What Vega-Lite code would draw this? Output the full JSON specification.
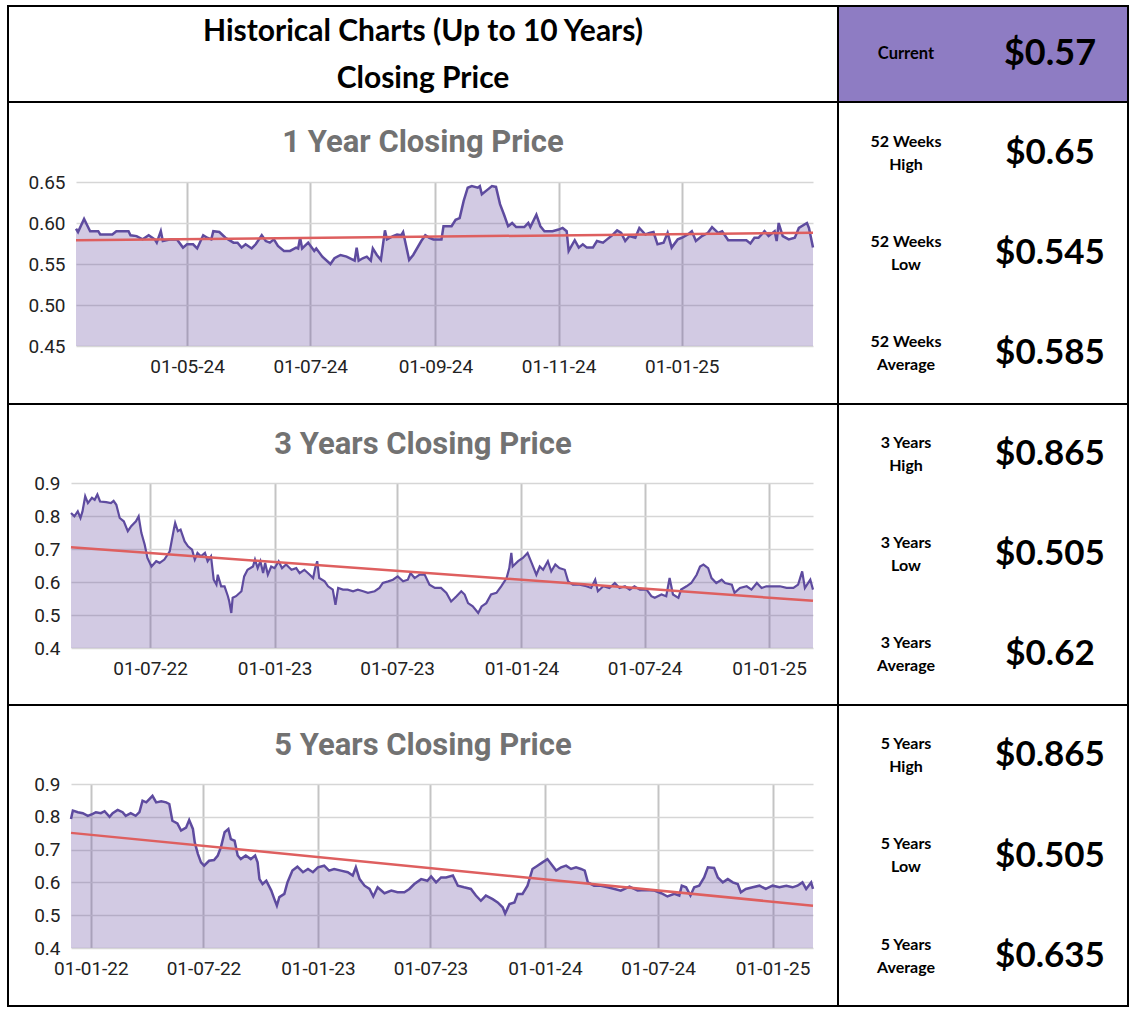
{
"$schema": "https://vega.github.io/schema/vega-lite/v6.json",
"padding": {"left": 7, "top": 5, "right": 5, "bottom": 5},
"bounds": "flush",
"spacing": 0,
"columns": 2,
"config": {"view": {"stroke": "#000000", "strokeWidth": 2}, "font": "Lato"},
"datasets": {
"header": [{"line": "Historical Charts (Up to 10 Years)"}, {"line": "Closing Price"}],
"current": [{"stat": "Current", "value": 0.57}],
"stats1y": [{"period": "52 Weeks", "stat": "High", "value": 0.65}, {"period": "52 Weeks", "stat": "Low", "value": 0.545}, {"period": "52 Weeks", "stat": "Average", "value": 0.585}],
"stats3y": [{"period": "3 Years", "stat": "High", "value": 0.865}, {"period": "3 Years", "stat": "Low", "value": 0.505}, {"period": "3 Years", "stat": "Average", "value": 0.62}],
"stats5y": [{"period": "5 Years", "stat": "High", "value": 0.865}, {"period": "5 Years", "stat": "Low", "value": 0.505}, {"period": "5 Years", "stat": "Average", "value": 0.635}],
"t1y": [{"date": "2024-03-07", "price": 0.579}, {"date": "2025-03-07", "price": 0.588}],
"t3y": [{"date": "2022-03-06", "price": 0.705}, {"date": "2025-03-07", "price": 0.543}],
"t5y": [{"date": "2021-11-30", "price": 0.751}, {"date": "2025-03-07", "price": 0.529}],
"p1y": [
{"date":"2024-03-07","price":0.593},{"date":"2024-03-08","price":0.589},{"date":"2024-03-11","price":0.605},{"date":"2024-03-14","price":0.590},{"date":"2024-03-18","price":0.590},{"date":"2024-03-19","price":0.586},{"date":"2024-03-25","price":0.586},{"date":"2024-03-27","price":0.590},{"date":"2024-04-02","price":0.590},{"date":"2024-04-03","price":0.585},{"date":"2024-04-06","price":0.584},{"date":"2024-04-09","price":0.580},{"date":"2024-04-12","price":0.585},{"date":"2024-04-15","price":0.580},{"date":"2024-04-16","price":0.576},{"date":"2024-04-18","price":0.590},{"date":"2024-04-19","price":0.578},{"date":"2024-04-23","price":0.580},{"date":"2024-04-26","price":0.580},{"date":"2024-04-29","price":0.570},{"date":"2024-05-01","price":0.574},{"date":"2024-05-04","price":0.574},{"date":"2024-05-06","price":0.569},{"date":"2024-05-09","price":0.585},{"date":"2024-05-11","price":0.582},{"date":"2024-05-13","price":0.580},{"date":"2024-05-14","price":0.590},{"date":"2024-05-17","price":0.589},{"date":"2024-05-20","price":0.582},{"date":"2024-05-24","price":0.576},{"date":"2024-05-26","price":0.576},{"date":"2024-05-28","price":0.570},{"date":"2024-05-30","price":0.574},{"date":"2024-06-02","price":0.569},{"date":"2024-06-04","price":0.574},{"date":"2024-06-07","price":0.585},{"date":"2024-06-09","price":0.578},{"date":"2024-06-11","price":0.576},{"date":"2024-06-13","price":0.580},{"date":"2024-06-15","price":0.572},{"date":"2024-06-18","price":0.566},{"date":"2024-06-21","price":0.566},{"date":"2024-06-24","price":0.570},{"date":"2024-06-25","price":0.569},{"date":"2024-06-26","price":0.582},{"date":"2024-06-27","price":0.569},{"date":"2024-06-30","price":0.576},{"date":"2024-07-03","price":0.566},{"date":"2024-07-04","price":0.569},{"date":"2024-07-07","price":0.559},{"date":"2024-07-11","price":0.550},{"date":"2024-07-13","price":0.557},{"date":"2024-07-16","price":0.561},{"date":"2024-07-19","price":0.559},{"date":"2024-07-23","price":0.554},{"date":"2024-07-24","price":0.570},{"date":"2024-07-25","price":0.554},{"date":"2024-07-27","price":0.557},{"date":"2024-07-29","price":0.559},{"date":"2024-07-31","price":0.554},{"date":"2024-08-01","price":0.569},{"date":"2024-08-03","price":0.561},{"date":"2024-08-05","price":0.555},{"date":"2024-08-07","price":0.591},{"date":"2024-08-08","price":0.580},{"date":"2024-08-11","price":0.584},{"date":"2024-08-13","price":0.586},{"date":"2024-08-15","price":0.585},{"date":"2024-08-16","price":0.589},{"date":"2024-08-19","price":0.555},{"date":"2024-08-21","price":0.561},{"date":"2024-08-25","price":0.578},{"date":"2024-08-27","price":0.585},{"date":"2024-08-29","price":0.582},{"date":"2024-08-31","price":0.580},{"date":"2024-09-04","price":0.580},{"date":"2024-09-05","price":0.596},{"date":"2024-09-09","price":0.596},{"date":"2024-09-11","price":0.604},{"date":"2024-09-13","price":0.606},{"date":"2024-09-15","price":0.627},{"date":"2024-09-17","price":0.643},{"date":"2024-09-19","price":0.645},{"date":"2024-09-22","price":0.643},{"date":"2024-09-23","price":0.645},{"date":"2024-09-24","price":0.635},{"date":"2024-09-27","price":0.641},{"date":"2024-09-29","price":0.645},{"date":"2024-10-01","price":0.644},{"date":"2024-10-03","price":0.623},{"date":"2024-10-05","price":0.610},{"date":"2024-10-07","price":0.596},{"date":"2024-10-09","price":0.600},{"date":"2024-10-11","price":0.595},{"date":"2024-10-15","price":0.595},{"date":"2024-10-17","price":0.600},{"date":"2024-10-18","price":0.595},{"date":"2024-10-21","price":0.610},{"date":"2024-10-23","price":0.596},{"date":"2024-10-25","price":0.590},{"date":"2024-10-29","price":0.590},{"date":"2024-11-01","price":0.592},{"date":"2024-11-03","price":0.594},{"date":"2024-11-05","price":0.590},{"date":"2024-11-06","price":0.566},{"date":"2024-11-09","price":0.579},{"date":"2024-11-11","price":0.570},{"date":"2024-11-13","price":0.574},{"date":"2024-11-15","price":0.570},{"date":"2024-11-18","price":0.570},{"date":"2024-11-20","price":0.578},{"date":"2024-11-23","price":0.576},{"date":"2024-11-25","price":0.580},{"date":"2024-11-28","price":0.586},{"date":"2024-11-30","price":0.591},{"date":"2024-12-02","price":0.588},{"date":"2024-12-04","price":0.578},{"date":"2024-12-06","price":0.584},{"date":"2024-12-09","price":0.582},{"date":"2024-12-11","price":0.594},{"date":"2024-12-14","price":0.586},{"date":"2024-12-16","price":0.588},{"date":"2024-12-18","price":0.589},{"date":"2024-12-20","price":0.574},{"date":"2024-12-23","price":0.576},{"date":"2024-12-25","price":0.588},{"date":"2024-12-27","price":0.570},{"date":"2024-12-30","price":0.580},{"date":"2025-01-01","price":0.582},{"date":"2025-01-04","price":0.586},{"date":"2025-01-06","price":0.590},{"date":"2025-01-08","price":0.578},{"date":"2025-01-11","price":0.584},{"date":"2025-01-14","price":0.588},{"date":"2025-01-16","price":0.595},{"date":"2025-01-19","price":0.588},{"date":"2025-01-21","price":0.590},{"date":"2025-01-24","price":0.579},{"date":"2025-01-30","price":0.579},{"date":"2025-02-02","price":0.579},{"date":"2025-02-04","price":0.575},{"date":"2025-02-06","price":0.582},{"date":"2025-02-08","price":0.582},{"date":"2025-02-11","price":0.590},{"date":"2025-02-13","price":0.584},{"date":"2025-02-16","price":0.590},{"date":"2025-02-17","price":0.578},{"date":"2025-02-18","price":0.600},{"date":"2025-02-20","price":0.584},{"date":"2025-02-23","price":0.580},{"date":"2025-02-26","price":0.582},{"date":"2025-02-28","price":0.594},{"date":"2025-03-04","price":0.600},{"date":"2025-03-05","price":0.594},{"date":"2025-03-07","price":0.570}
],
"p3y": [
{"date":"2022-03-06","price":0.809},{"date":"2022-03-11","price":0.799},{"date":"2022-03-16","price":0.814},{"date":"2022-03-20","price":0.794},{"date":"2022-03-23","price":0.814},{"date":"2022-03-27","price":0.860},{"date":"2022-03-31","price":0.839},{"date":"2022-04-06","price":0.855},{"date":"2022-04-10","price":0.849},{"date":"2022-04-14","price":0.865},{"date":"2022-04-18","price":0.844},{"date":"2022-04-27","price":0.842},{"date":"2022-05-04","price":0.839},{"date":"2022-05-08","price":0.846},{"date":"2022-05-12","price":0.834},{"date":"2022-05-17","price":0.794},{"date":"2022-05-23","price":0.784},{"date":"2022-05-29","price":0.754},{"date":"2022-06-03","price":0.769},{"date":"2022-06-10","price":0.784},{"date":"2022-06-14","price":0.799},{"date":"2022-06-18","price":0.749},{"date":"2022-06-23","price":0.713},{"date":"2022-06-27","price":0.673},{"date":"2022-07-03","price":0.647},{"date":"2022-07-10","price":0.663},{"date":"2022-07-15","price":0.658},{"date":"2022-07-22","price":0.668},{"date":"2022-07-30","price":0.693},{"date":"2022-08-05","price":0.759},{"date":"2022-08-07","price":0.779},{"date":"2022-08-11","price":0.754},{"date":"2022-08-15","price":0.759},{"date":"2022-08-21","price":0.723},{"date":"2022-08-26","price":0.708},{"date":"2022-09-01","price":0.698},{"date":"2022-09-05","price":0.668},{"date":"2022-09-09","price":0.688},{"date":"2022-09-14","price":0.678},{"date":"2022-09-20","price":0.688},{"date":"2022-09-24","price":0.663},{"date":"2022-09-29","price":0.678},{"date":"2022-10-03","price":0.607},{"date":"2022-10-07","price":0.592},{"date":"2022-10-09","price":0.622},{"date":"2022-10-14","price":0.587},{"date":"2022-10-19","price":0.587},{"date":"2022-10-24","price":0.557},{"date":"2022-10-26","price":0.541},{"date":"2022-10-29","price":0.506},{"date":"2022-10-31","price":0.552},{"date":"2022-11-05","price":0.557},{"date":"2022-11-13","price":0.572},{"date":"2022-11-17","price":0.617},{"date":"2022-11-22","price":0.637},{"date":"2022-11-30","price":0.647},{"date":"2022-12-03","price":0.668},{"date":"2022-12-07","price":0.642},{"date":"2022-12-11","price":0.663},{"date":"2022-12-15","price":0.627},{"date":"2022-12-18","price":0.658},{"date":"2022-12-22","price":0.622},{"date":"2022-12-27","price":0.647},{"date":"2023-01-01","price":0.642},{"date":"2023-01-07","price":0.663},{"date":"2023-01-12","price":0.642},{"date":"2023-01-18","price":0.653},{"date":"2023-01-26","price":0.637},{"date":"2023-02-02","price":0.642},{"date":"2023-02-07","price":0.627},{"date":"2023-02-14","price":0.637},{"date":"2023-02-22","price":0.622},{"date":"2023-02-27","price":0.612},{"date":"2023-03-02","price":0.642},{"date":"2023-03-05","price":0.663},{"date":"2023-03-08","price":0.612},{"date":"2023-03-16","price":0.602},{"date":"2023-03-21","price":0.587},{"date":"2023-03-28","price":0.577},{"date":"2023-04-01","price":0.531},{"date":"2023-04-05","price":0.582},{"date":"2023-04-12","price":0.577},{"date":"2023-04-19","price":0.577},{"date":"2023-04-27","price":0.572},{"date":"2023-05-04","price":0.577},{"date":"2023-05-12","price":0.572},{"date":"2023-05-19","price":0.567},{"date":"2023-05-29","price":0.572},{"date":"2023-06-05","price":0.582},{"date":"2023-06-10","price":0.597},{"date":"2023-06-18","price":0.602},{"date":"2023-06-25","price":0.607},{"date":"2023-07-02","price":0.617},{"date":"2023-07-10","price":0.602},{"date":"2023-07-17","price":0.607},{"date":"2023-07-21","price":0.627},{"date":"2023-07-27","price":0.612},{"date":"2023-08-03","price":0.622},{"date":"2023-08-11","price":0.622},{"date":"2023-08-18","price":0.592},{"date":"2023-08-26","price":0.582},{"date":"2023-09-04","price":0.582},{"date":"2023-09-12","price":0.567},{"date":"2023-09-19","price":0.541},{"date":"2023-09-27","price":0.557},{"date":"2023-10-04","price":0.572},{"date":"2023-10-09","price":0.562},{"date":"2023-10-14","price":0.536},{"date":"2023-10-21","price":0.526},{"date":"2023-10-29","price":0.506},{"date":"2023-11-03","price":0.526},{"date":"2023-11-10","price":0.536},{"date":"2023-11-17","price":0.562},{"date":"2023-11-25","price":0.567},{"date":"2023-12-02","price":0.587},{"date":"2023-12-10","price":0.612},{"date":"2023-12-14","price":0.642},{"date":"2023-12-17","price":0.688},{"date":"2023-12-19","price":0.647},{"date":"2023-12-27","price":0.663},{"date":"2024-01-03","price":0.673},{"date":"2024-01-10","price":0.688},{"date":"2024-01-16","price":0.658},{"date":"2024-01-23","price":0.622},{"date":"2024-01-28","price":0.647},{"date":"2024-02-02","price":0.637},{"date":"2024-02-09","price":0.663},{"date":"2024-02-14","price":0.632},{"date":"2024-02-20","price":0.653},{"date":"2024-02-26","price":0.642},{"date":"2024-03-05","price":0.637},{"date":"2024-03-10","price":0.602},{"date":"2024-03-17","price":0.592},{"date":"2024-03-27","price":0.592},{"date":"2024-04-06","price":0.587},{"date":"2024-04-13","price":0.582},{"date":"2024-04-19","price":0.607},{"date":"2024-04-23","price":0.572},{"date":"2024-05-01","price":0.587},{"date":"2024-05-10","price":0.582},{"date":"2024-05-18","price":0.597},{"date":"2024-05-25","price":0.582},{"date":"2024-06-02","price":0.587},{"date":"2024-06-09","price":0.577},{"date":"2024-06-16","price":0.587},{"date":"2024-06-24","price":0.577},{"date":"2024-07-04","price":0.577},{"date":"2024-07-11","price":0.557},{"date":"2024-07-16","price":0.552},{"date":"2024-07-26","price":0.562},{"date":"2024-08-02","price":0.557},{"date":"2024-08-07","price":0.612},{"date":"2024-08-12","price":0.562},{"date":"2024-08-20","price":0.552},{"date":"2024-08-24","price":0.577},{"date":"2024-09-01","price":0.587},{"date":"2024-09-08","price":0.597},{"date":"2024-09-16","price":0.622},{"date":"2024-09-21","price":0.647},{"date":"2024-09-26","price":0.653},{"date":"2024-10-03","price":0.642},{"date":"2024-10-08","price":0.612},{"date":"2024-10-15","price":0.597},{"date":"2024-10-23","price":0.607},{"date":"2024-10-28","price":0.597},{"date":"2024-11-07","price":0.592},{"date":"2024-11-11","price":0.567},{"date":"2024-11-19","price":0.582},{"date":"2024-11-29","price":0.587},{"date":"2024-12-06","price":0.577},{"date":"2024-12-14","price":0.597},{"date":"2024-12-21","price":0.582},{"date":"2024-12-28","price":0.587},{"date":"2025-01-07","price":0.587},{"date":"2025-01-17","price":0.587},{"date":"2025-01-27","price":0.582},{"date":"2025-02-06","price":0.582},{"date":"2025-02-13","price":0.592},{"date":"2025-02-19","price":0.632},{"date":"2025-02-23","price":0.582},{"date":"2025-03-03","price":0.607},{"date":"2025-03-07","price":0.577}
],
"p5y": [
{"date":"2021-11-30","price":0.793},{"date":"2021-12-03","price":0.819},{"date":"2021-12-11","price":0.814},{"date":"2021-12-19","price":0.811},{"date":"2021-12-27","price":0.803},{"date":"2022-01-04","price":0.809},{"date":"2022-01-09","price":0.814},{"date":"2022-01-17","price":0.811},{"date":"2022-01-23","price":0.817},{"date":"2022-01-31","price":0.800},{"date":"2022-02-05","price":0.811},{"date":"2022-02-13","price":0.821},{"date":"2022-02-21","price":0.814},{"date":"2022-02-26","price":0.803},{"date":"2022-03-06","price":0.811},{"date":"2022-03-14","price":0.803},{"date":"2022-03-20","price":0.814},{"date":"2022-03-25","price":0.849},{"date":"2022-03-31","price":0.844},{"date":"2022-04-05","price":0.854},{"date":"2022-04-10","price":0.864},{"date":"2022-04-16","price":0.844},{"date":"2022-04-24","price":0.847},{"date":"2022-05-02","price":0.844},{"date":"2022-05-07","price":0.839},{"date":"2022-05-12","price":0.788},{"date":"2022-05-20","price":0.780},{"date":"2022-05-26","price":0.758},{"date":"2022-06-03","price":0.767},{"date":"2022-06-08","price":0.790},{"date":"2022-06-14","price":0.763},{"date":"2022-06-17","price":0.722},{"date":"2022-06-22","price":0.687},{"date":"2022-06-27","price":0.661},{"date":"2022-07-02","price":0.651},{"date":"2022-07-10","price":0.666},{"date":"2022-07-18","price":0.668},{"date":"2022-07-24","price":0.682},{"date":"2022-07-29","price":0.707},{"date":"2022-08-04","price":0.753},{"date":"2022-08-10","price":0.763},{"date":"2022-08-14","price":0.732},{"date":"2022-08-20","price":0.727},{"date":"2022-08-25","price":0.682},{"date":"2022-08-30","price":0.671},{"date":"2022-09-07","price":0.682},{"date":"2022-09-15","price":0.671},{"date":"2022-09-22","price":0.682},{"date":"2022-09-26","price":0.661},{"date":"2022-09-29","price":0.610},{"date":"2022-10-04","price":0.595},{"date":"2022-10-10","price":0.605},{"date":"2022-10-18","price":0.575},{"date":"2022-10-23","price":0.549},{"date":"2022-10-27","price":0.529},{"date":"2022-10-31","price":0.555},{"date":"2022-11-08","price":0.565},{"date":"2022-11-13","price":0.600},{"date":"2022-11-21","price":0.636},{"date":"2022-11-29","price":0.648},{"date":"2022-12-08","price":0.631},{"date":"2022-12-16","price":0.641},{"date":"2022-12-24","price":0.631},{"date":"2023-01-01","price":0.646},{"date":"2023-01-11","price":0.651},{"date":"2023-01-19","price":0.636},{"date":"2023-01-27","price":0.641},{"date":"2023-02-07","price":0.636},{"date":"2023-02-18","price":0.631},{"date":"2023-02-26","price":0.621},{"date":"2023-03-03","price":0.646},{"date":"2023-03-09","price":0.610},{"date":"2023-03-17","price":0.590},{"date":"2023-03-25","price":0.580},{"date":"2023-03-31","price":0.557},{"date":"2023-04-07","price":0.585},{"date":"2023-04-18","price":0.567},{"date":"2023-04-29","price":0.575},{"date":"2023-05-09","price":0.570},{"date":"2023-05-20","price":0.570},{"date":"2023-05-28","price":0.580},{"date":"2023-06-05","price":0.595},{"date":"2023-06-16","price":0.610},{"date":"2023-06-26","price":0.605},{"date":"2023-07-02","price":0.618},{"date":"2023-07-10","price":0.600},{"date":"2023-07-18","price":0.615},{"date":"2023-07-26","price":0.615},{"date":"2023-08-06","price":0.621},{"date":"2023-08-14","price":0.590},{"date":"2023-08-24","price":0.585},{"date":"2023-09-04","price":0.580},{"date":"2023-09-12","price":0.560},{"date":"2023-09-20","price":0.544},{"date":"2023-09-28","price":0.560},{"date":"2023-10-09","price":0.549},{"date":"2023-10-17","price":0.539},{"date":"2023-10-25","price":0.524},{"date":"2023-10-29","price":0.505},{"date":"2023-11-05","price":0.534},{"date":"2023-11-13","price":0.539},{"date":"2023-11-18","price":0.565},{"date":"2023-11-26","price":0.565},{"date":"2023-12-04","price":0.590},{"date":"2023-12-12","price":0.641},{"date":"2023-12-20","price":0.651},{"date":"2023-12-28","price":0.661},{"date":"2024-01-05","price":0.671},{"date":"2024-01-11","price":0.656},{"date":"2024-01-19","price":0.636},{"date":"2024-01-27","price":0.646},{"date":"2024-02-04","price":0.651},{"date":"2024-02-12","price":0.641},{"date":"2024-02-20","price":0.646},{"date":"2024-02-28","price":0.641},{"date":"2024-03-05","price":0.636},{"date":"2024-03-10","price":0.600},{"date":"2024-03-20","price":0.590},{"date":"2024-03-31","price":0.590},{"date":"2024-04-11","price":0.585},{"date":"2024-04-22","price":0.580},{"date":"2024-05-02","price":0.575},{"date":"2024-05-16","price":0.587},{"date":"2024-05-29","price":0.575},{"date":"2024-06-11","price":0.577},{"date":"2024-06-25","price":0.575},{"date":"2024-07-06","price":0.567},{"date":"2024-07-16","price":0.557},{"date":"2024-07-27","price":0.565},{"date":"2024-08-04","price":0.560},{"date":"2024-08-08","price":0.590},{"date":"2024-08-15","price":0.585},{"date":"2024-08-22","price":0.560},{"date":"2024-08-28","price":0.585},{"date":"2024-09-05","price":0.590},{"date":"2024-09-13","price":0.615},{"date":"2024-09-19","price":0.646},{"date":"2024-09-29","price":0.644},{"date":"2024-10-05","price":0.615},{"date":"2024-10-13","price":0.600},{"date":"2024-10-21","price":0.610},{"date":"2024-10-29","price":0.600},{"date":"2024-11-06","price":0.595},{"date":"2024-11-11","price":0.570},{"date":"2024-11-19","price":0.580},{"date":"2024-11-30","price":0.585},{"date":"2024-12-11","price":0.590},{"date":"2024-12-21","price":0.580},{"date":"2025-01-01","price":0.590},{"date":"2025-01-12","price":0.585},{"date":"2025-01-23","price":0.590},{"date":"2025-02-02","price":0.585},{"date":"2025-02-10","price":0.590},{"date":"2025-02-18","price":0.600},{"date":"2025-02-24","price":0.580},{"date":"2025-03-04","price":0.600},{"date":"2025-03-07","price":0.580}
]
},
"concat": [
{
 "width": 830, "height": 96,
 "data": {"name": "header"},
 "mark": {"type": "text", "font": "Lato", "fontWeight": "bold", "fontSize": 30, "color": "#000000"},
 "encoding": {
  "text": {"field": "line", "type": "nominal"},
  "y": {"field": "line", "type": "nominal", "sort": null, "scale": {"type": "point", "range": [26, 73], "padding": 0}, "axis": null}
 }
},
{
 "width": 290, "height": 96,
 "view": {"fill": "#8e7cc3"},
 "data": {"name": "current"},
 "layer": [
  {"mark": {"type": "text", "font": "Lato", "fontWeight": "bold", "fontSize": 16.5, "color": "#000000"},
   "encoding": {"text": {"field": "stat", "type": "nominal"},
    "x": {"datum": "label", "type": "nominal", "scale": {"type": "point", "domain": ["label", "value"], "range": [68, 212], "padding": 0}, "axis": null}}},
  {"mark": {"type": "text", "font": "Lato", "fontWeight": "bold", "fontSize": 36, "color": "#000000"},
   "encoding": {"text": {"field": "value", "type": "quantitative", "format": "$.3~f"},
    "x": {"datum": "value", "type": "nominal", "scale": {"type": "point", "domain": ["label", "value"], "range": [68, 212], "padding": 0}, "axis": null}}}
 ]
},
{
 "width": 830, "height": 302,
 "title": {"text": "1 Year Closing Price", "font": "Roboto", "fontSize": 31, "fontWeight": "bold", "color": "#727272", "anchor": "middle", "frame": "group", "offset": -57},
 "layer": [
  {"data": {"name": "p1y"},
   "mark": {"type": "area", "color": "#6a51a3", "opacity": 0.3},
   "encoding": {
    "x": {"field": "date", "type": "temporal", "scale": {"type": "utc", "nice": false, "range": [68, 805]},
     "axis": {"orient": "top", "grid": true, "gridColor": "#c4c4c4", "gridWidth": 2, "labels": false, "ticks": false, "domain": false, "title": null,
      "values": [{"year": 2024, "month": 5, "date": 1, "utc": true}, {"year": 2024, "month": 7, "date": 1, "utc": true}, {"year": 2024, "month": 9, "date": 1, "utc": true}, {"year": 2024, "month": 11, "date": 1, "utc": true}, {"year": 2025, "month": 1, "date": 1, "utc": true}]}},
    "y": {"field": "price", "type": "quantitative", "scale": {"domain": [0.45, 0.65], "range": [244, 80], "zero": false, "nice": false},
     "axis": {"orient": "left", "offset": -68, "values": [0.45, 0.475, 0.5, 0.525, 0.55, 0.575, 0.6, 0.625, 0.65], "labelExpr": "round(datum.value*1000) % 50 == 0 ? format(datum.value, '.2f') : ''", "labelOverlap": false, "grid": true, "gridColor": "#d6d6d6", "gridWidth": 1.5, "domain": false, "ticks": false, "title": null, "labelFont": "Roboto", "labelFontSize": 19, "labelColor": "#222222", "labelPadding": 11}},
    "y2": {"datum": 0.45}
   }},
  {"data": {"name": "p1y"},
   "mark": {"type": "line", "color": "#5e4b9f", "strokeWidth": 2.5},
   "encoding": {
    "x": {"field": "date", "type": "temporal", "scale": {"type": "utc", "nice": false, "range": [68, 805]},
     "axis": {"orient": "bottom", "offset": -58, "grid": false, "ticks": false, "domain": false, "title": null, "format": "%d-%m-%y", "labelFont": "Roboto", "labelFontSize": 19, "labelColor": "#222222", "labelPadding": 11, "labelFlush": false, "labelOverlap": false,
      "values": [{"year": 2024, "month": 5, "date": 1, "utc": true}, {"year": 2024, "month": 7, "date": 1, "utc": true}, {"year": 2024, "month": 9, "date": 1, "utc": true}, {"year": 2024, "month": 11, "date": 1, "utc": true}, {"year": 2025, "month": 1, "date": 1, "utc": true}]}},
    "y": {"field": "price", "type": "quantitative"}
   }},
  {"data": {"name": "t1y"},
   "mark": {"type": "line", "color": "#de5f5f", "strokeWidth": 2.5},
   "encoding": {
    "x": {"field": "date", "type": "temporal", "axis": null},
    "y": {"field": "price", "type": "quantitative"}
   }}
 ],
 "resolve": {"axis": {"x": "independent"}}
},
{
 "width": 290, "height": 302,
 "data": {"name": "stats1y"},
 "encoding": {
  "y": {"field": "stat", "type": "nominal", "scale": {"type": "point", "domain": ["High", "Low", "Average"], "range": [51, 251], "padding": 0}, "axis": null}
 },
 "layer": [
  {"mark": {"type": "text", "font": "Lato", "fontWeight": "bold", "fontSize": 16, "color": "#000000", "dy": -11.5},
   "encoding": {"text": {"field": "period", "type": "nominal"},
    "x": {"datum": "label", "type": "nominal", "scale": {"type": "point", "domain": ["label", "value"], "range": [68, 212], "padding": 0}, "axis": null}}},
  {"mark": {"type": "text", "font": "Lato", "fontWeight": "bold", "fontSize": 16, "color": "#000000", "dy": 11.5},
   "encoding": {"text": {"field": "stat", "type": "nominal"},
    "x": {"datum": "label", "type": "nominal", "scale": {"type": "point", "domain": ["label", "value"], "range": [68, 212], "padding": 0}, "axis": null}}},
  {"mark": {"type": "text", "font": "Lato", "fontWeight": "bold", "fontSize": 35, "color": "#000000"},
   "encoding": {"text": {"field": "value", "type": "quantitative", "format": "$.3~f"},
    "x": {"datum": "value", "type": "nominal", "scale": {"type": "point", "domain": ["label", "value"], "range": [68, 212], "padding": 0}, "axis": null}}}
 ]
},
{
 "width": 830, "height": 301,
 "title": {"text": "3 Years Closing Price", "font": "Roboto", "fontSize": 31, "fontWeight": "bold", "color": "#727272", "anchor": "middle", "frame": "group", "offset": -57},
 "layer": [
  {"data": {"name": "p3y"},
   "mark": {"type": "area", "color": "#6a51a3", "opacity": 0.3},
   "encoding": {
    "x": {"field": "date", "type": "temporal", "scale": {"type": "utc", "nice": false, "range": [63, 805]},
     "axis": {"orient": "top", "grid": true, "gridColor": "#c4c4c4", "gridWidth": 2, "labels": false, "ticks": false, "domain": false, "title": null,
      "values": [{"year": 2022, "month": 7, "date": 1, "utc": true}, {"year": 2023, "month": 1, "date": 1, "utc": true}, {"year": 2023, "month": 7, "date": 1, "utc": true}, {"year": 2024, "month": 1, "date": 1, "utc": true}, {"year": 2024, "month": 7, "date": 1, "utc": true}, {"year": 2025, "month": 1, "date": 1, "utc": true}]}},
    "y": {"field": "price", "type": "quantitative", "scale": {"domain": [0.4, 0.9], "range": [244, 79], "zero": false, "nice": false},
     "axis": {"orient": "left", "offset": -63, "values": [0.4, 0.45, 0.5, 0.55, 0.6, 0.65, 0.7, 0.75, 0.8, 0.85, 0.9], "labelExpr": "round(datum.value*100) % 10 == 0 ? format(datum.value, '.1f') : ''", "labelOverlap": false, "grid": true, "gridColor": "#d6d6d6", "gridWidth": 1.5, "domain": false, "ticks": false, "title": null, "labelFont": "Roboto", "labelFontSize": 19, "labelColor": "#222222", "labelPadding": 11}},
    "y2": {"datum": 0.4}
   }},
  {"data": {"name": "p3y"},
   "mark": {"type": "line", "color": "#5e4b9f", "strokeWidth": 2.2},
   "encoding": {
    "x": {"field": "date", "type": "temporal", "scale": {"type": "utc", "nice": false, "range": [63, 805]},
     "axis": {"orient": "bottom", "offset": -57, "grid": false, "ticks": false, "domain": false, "title": null, "format": "%d-%m-%y", "labelFont": "Roboto", "labelFontSize": 19, "labelColor": "#222222", "labelPadding": 11, "labelFlush": false, "labelOverlap": false,
      "values": [{"year": 2022, "month": 7, "date": 1, "utc": true}, {"year": 2023, "month": 1, "date": 1, "utc": true}, {"year": 2023, "month": 7, "date": 1, "utc": true}, {"year": 2024, "month": 1, "date": 1, "utc": true}, {"year": 2024, "month": 7, "date": 1, "utc": true}, {"year": 2025, "month": 1, "date": 1, "utc": true}]}},
    "y": {"field": "price", "type": "quantitative"}
   }},
  {"data": {"name": "t3y"},
   "mark": {"type": "line", "color": "#de5f5f", "strokeWidth": 2.5},
   "encoding": {
    "x": {"field": "date", "type": "temporal", "axis": null},
    "y": {"field": "price", "type": "quantitative"}
   }}
 ],
 "resolve": {"axis": {"x": "independent"}}
},
{
 "width": 290, "height": 301,
 "data": {"name": "stats3y"},
 "encoding": {
  "y": {"field": "stat", "type": "nominal", "scale": {"type": "point", "domain": ["High", "Low", "Average"], "range": [50, 250], "padding": 0}, "axis": null}
 },
 "layer": [
  {"mark": {"type": "text", "font": "Lato", "fontWeight": "bold", "fontSize": 16, "color": "#000000", "dy": -11.5},
   "encoding": {"text": {"field": "period", "type": "nominal"},
    "x": {"datum": "label", "type": "nominal", "scale": {"type": "point", "domain": ["label", "value"], "range": [68, 212], "padding": 0}, "axis": null}}},
  {"mark": {"type": "text", "font": "Lato", "fontWeight": "bold", "fontSize": 16, "color": "#000000", "dy": 11.5},
   "encoding": {"text": {"field": "stat", "type": "nominal"},
    "x": {"datum": "label", "type": "nominal", "scale": {"type": "point", "domain": ["label", "value"], "range": [68, 212], "padding": 0}, "axis": null}}},
  {"mark": {"type": "text", "font": "Lato", "fontWeight": "bold", "fontSize": 35, "color": "#000000"},
   "encoding": {"text": {"field": "value", "type": "quantitative", "format": "$.3~f"},
    "x": {"datum": "value", "type": "nominal", "scale": {"type": "point", "domain": ["label", "value"], "range": [68, 212], "padding": 0}, "axis": null}}}
 ]
},
{
 "width": 830, "height": 301,
 "title": {"text": "5 Years Closing Price", "font": "Roboto", "fontSize": 31, "fontWeight": "bold", "color": "#727272", "anchor": "middle", "frame": "group", "offset": -57},
 "layer": [
  {"data": {"name": "p5y"},
   "mark": {"type": "area", "color": "#6a51a3", "opacity": 0.3},
   "encoding": {
    "x": {"field": "date", "type": "temporal", "scale": {"type": "utc", "nice": false, "range": [63, 805]},
     "axis": {"orient": "top", "grid": true, "gridColor": "#c4c4c4", "gridWidth": 2, "labels": false, "ticks": false, "domain": false, "title": null,
      "values": [{"year": 2022, "month": 1, "date": 1, "utc": true}, {"year": 2022, "month": 7, "date": 1, "utc": true}, {"year": 2023, "month": 1, "date": 1, "utc": true}, {"year": 2023, "month": 7, "date": 1, "utc": true}, {"year": 2024, "month": 1, "date": 1, "utc": true}, {"year": 2024, "month": 7, "date": 1, "utc": true}, {"year": 2025, "month": 1, "date": 1, "utc": true}]}},
    "y": {"field": "price", "type": "quantitative", "scale": {"domain": [0.4, 0.9], "range": [243, 79], "zero": false, "nice": false},
     "axis": {"orient": "left", "offset": -63, "values": [0.4, 0.45, 0.5, 0.55, 0.6, 0.65, 0.7, 0.75, 0.8, 0.85, 0.9], "labelExpr": "round(datum.value*100) % 10 == 0 ? format(datum.value, '.1f') : ''", "labelOverlap": false, "grid": true, "gridColor": "#d6d6d6", "gridWidth": 1.5, "domain": false, "ticks": false, "title": null, "labelFont": "Roboto", "labelFontSize": 19, "labelColor": "#222222", "labelPadding": 11}},
    "y2": {"datum": 0.4}
   }},
  {"data": {"name": "p5y"},
   "mark": {"type": "line", "color": "#5e4b9f", "strokeWidth": 2.5},
   "encoding": {
    "x": {"field": "date", "type": "temporal", "scale": {"type": "utc", "nice": false, "range": [63, 805]},
     "axis": {"orient": "bottom", "offset": -58, "grid": false, "ticks": false, "domain": false, "title": null, "format": "%d-%m-%y", "labelFont": "Roboto", "labelFontSize": 19, "labelColor": "#222222", "labelPadding": 11, "labelFlush": false, "labelOverlap": false,
      "values": [{"year": 2022, "month": 1, "date": 1, "utc": true}, {"year": 2022, "month": 7, "date": 1, "utc": true}, {"year": 2023, "month": 1, "date": 1, "utc": true}, {"year": 2023, "month": 7, "date": 1, "utc": true}, {"year": 2024, "month": 1, "date": 1, "utc": true}, {"year": 2024, "month": 7, "date": 1, "utc": true}, {"year": 2025, "month": 1, "date": 1, "utc": true}]}},
    "y": {"field": "price", "type": "quantitative"}
   }},
  {"data": {"name": "t5y"},
   "mark": {"type": "line", "color": "#de5f5f", "strokeWidth": 2.5},
   "encoding": {
    "x": {"field": "date", "type": "temporal", "axis": null},
    "y": {"field": "price", "type": "quantitative"}
   }}
 ],
 "resolve": {"axis": {"x": "independent"}}
},
{
 "width": 290, "height": 301,
 "data": {"name": "stats5y"},
 "encoding": {
  "y": {"field": "stat", "type": "nominal", "scale": {"type": "point", "domain": ["High", "Low", "Average"], "range": [50, 251], "padding": 0}, "axis": null}
 },
 "layer": [
  {"mark": {"type": "text", "font": "Lato", "fontWeight": "bold", "fontSize": 16, "color": "#000000", "dy": -11.5},
   "encoding": {"text": {"field": "period", "type": "nominal"},
    "x": {"datum": "label", "type": "nominal", "scale": {"type": "point", "domain": ["label", "value"], "range": [68, 212], "padding": 0}, "axis": null}}},
  {"mark": {"type": "text", "font": "Lato", "fontWeight": "bold", "fontSize": 16, "color": "#000000", "dy": 11.5},
   "encoding": {"text": {"field": "stat", "type": "nominal"},
    "x": {"datum": "label", "type": "nominal", "scale": {"type": "point", "domain": ["label", "value"], "range": [68, 212], "padding": 0}, "axis": null}}},
  {"mark": {"type": "text", "font": "Lato", "fontWeight": "bold", "fontSize": 35, "color": "#000000"},
   "encoding": {"text": {"field": "value", "type": "quantitative", "format": "$.3~f"},
    "x": {"datum": "value", "type": "nominal", "scale": {"type": "point", "domain": ["label", "value"], "range": [68, 212], "padding": 0}, "axis": null}}}
 ]
}
]
}
